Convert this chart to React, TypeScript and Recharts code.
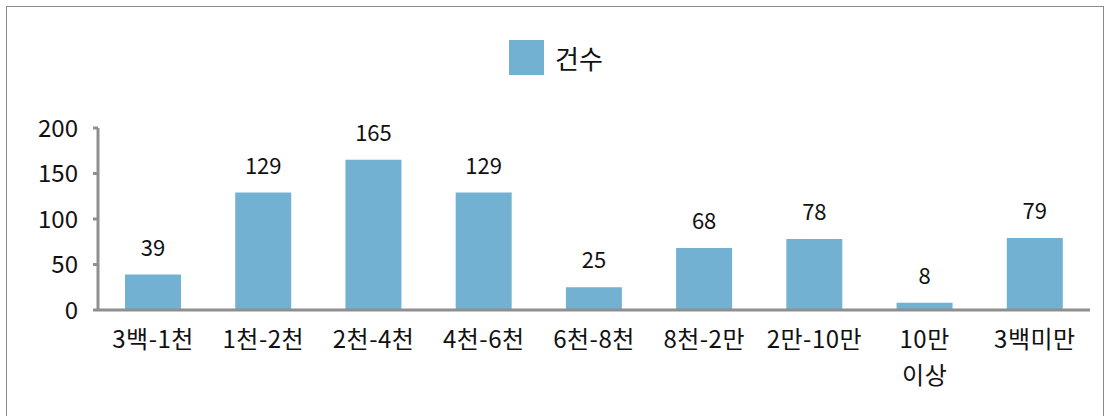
import React from "react";
import { BarChart, Bar, XAxis, YAxis, Legend, LabelList } from "recharts";

const categories = ["3백-1천", "1천-2천", "2천-4천", "4천-6천", "6천-8천", "8천-2만", "2만-10만", "10만 이상", "3백미만"];
const counts = [39, 129, 165, 129, 25, 68, 78, 8, 79];
const yTicks = [0, 50, 100, 150, 200];
const seriesName = "건수";

const data = categories.map((c, i) => ({ name: c, count: counts[i] }));

const FONT = "'Noto Sans CJK KR', 'Noto Sans', sans-serif";
const BAR_COLOR = "#72B1D1";
const AXIS_COLOR = "#8F8F8F";

function CategoryTick({ x, y, payload }: any) {
  const lines = String(payload.value).split(" ");
  return (
    <text x={x} y={y} textAnchor="middle" fontSize={24} fill="#111" fontFamily={FONT} letterSpacing={0.5}>
      {lines.map((l, i) => (
        <tspan key={i} x={x} dy={i === 0 ? 30 : 36}>
          {l}
        </tspan>
      ))}
    </text>
  );
}

function LegendContent() {
  return (
    <div style={{ display: "flex", justifyContent: "center", alignItems: "center", height: 35, fontFamily: FONT }}>
      <span style={{ display: "inline-block", width: 35, height: 35, background: BAR_COLOR, marginRight: 11 }} />
      <span style={{ fontSize: 26, color: "#111" }}>{seriesName}</span>
    </div>
  );
}

export default function App() {
  return (
    <div style={{ position: "fixed", left: 0, top: 0, width: 1112, height: 416, background: "#fff" }}>
      <div
        style={{
          position: "absolute",
          left: 6,
          top: 6,
          width: 1098,
          height: 420,
          border: "1.5px solid #8a8a8a",
          boxSizing: "border-box",
        }}
      />
      <div style={{ position: "absolute", left: 0, top: 0 }}>
        <BarChart
          width={1112}
          height={416}
          data={data}
          margin={{ top: 93, right: 22, bottom: 76, left: 0 }}
          barCategoryGap="24.5%"
        >
          <Legend verticalAlign="top" content={<LegendContent />} wrapperStyle={{ top: 40, left: 0, width: 1112 }} />
          <XAxis
            dataKey="name"
            interval={0}
            tickLine={false}
            stroke={AXIS_COLOR}
            strokeWidth={3}
            tick={<CategoryTick />}
          />
          <YAxis
            width={98}
            domain={[0, 200]}
            ticks={yTicks}
            stroke={AXIS_COLOR}
            strokeWidth={3}
            tickSize={5}
            tickMargin={15}
            tick={{ fontSize: 24, fill: "#111", fontFamily: FONT }}
          />
          <Bar dataKey="count" name={seriesName} fill={BAR_COLOR} isAnimationActive={false}>
            <LabelList dataKey="count" position="top" offset={19} fontSize={22} fill="#111" fontFamily={FONT} />
          </Bar>
        </BarChart>
      </div>
    </div>
  );
}
